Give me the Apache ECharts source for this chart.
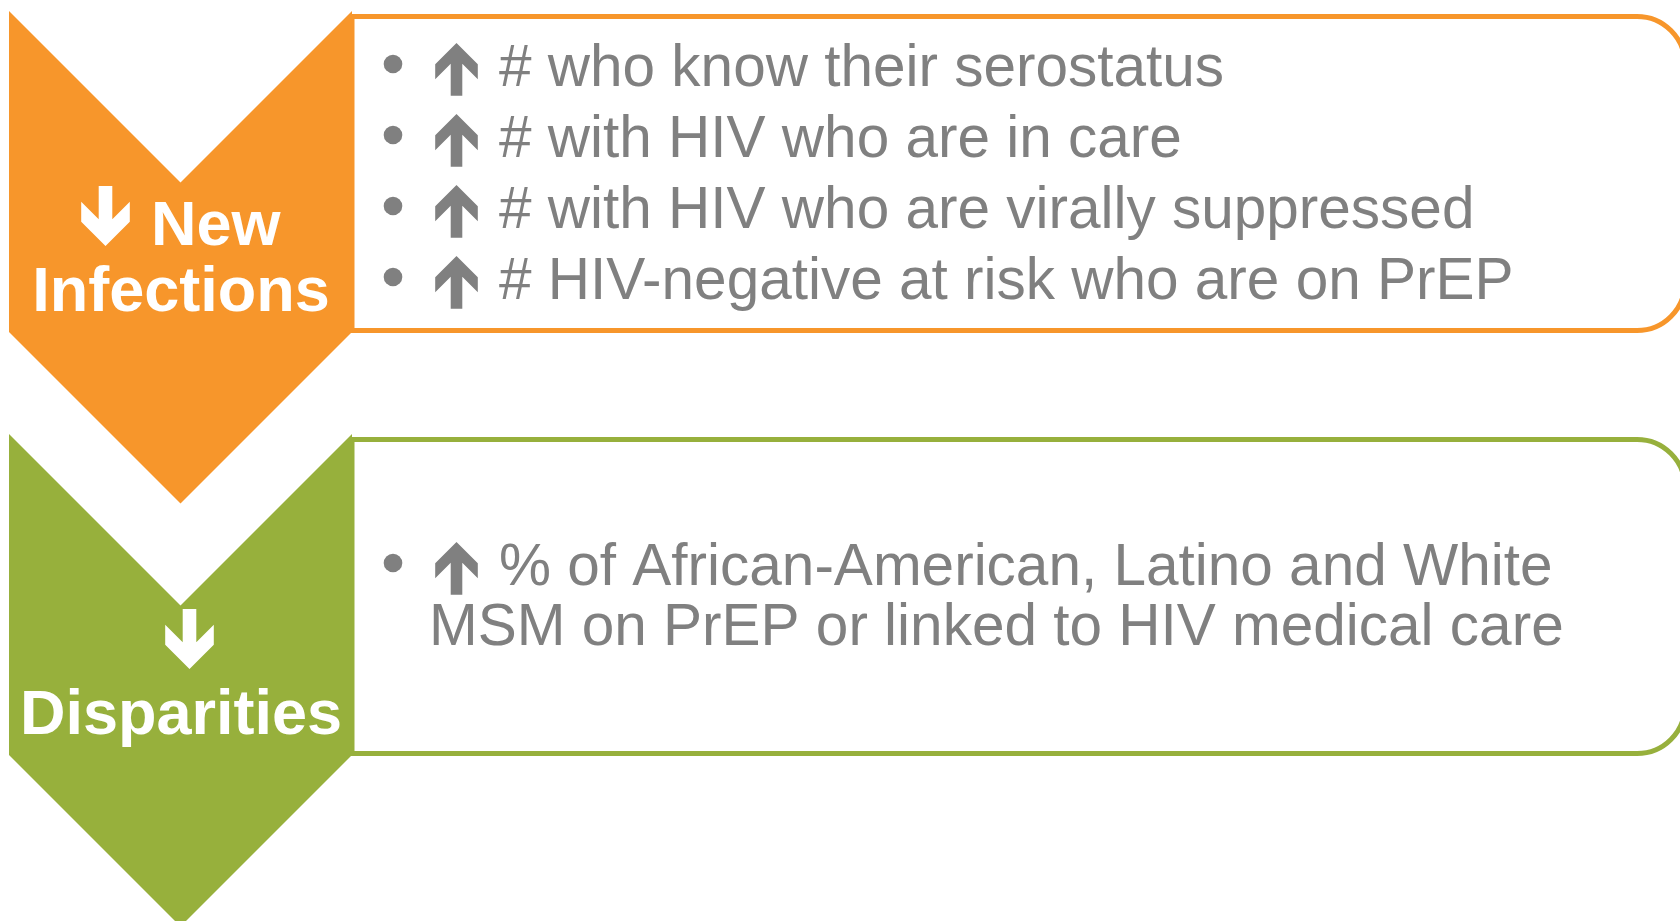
<!DOCTYPE html>
<html>
<head>
<meta charset="utf-8">
<title>HIV goals</title>
<script src="https://cdn.jsdelivr.net/npm/echarts@6/dist/echarts.min.js"></script>
<style>
  html, body { margin: 0; padding: 0; background: #fff; }
  #goals { width: 1680px; height: 921px; }
</style>
</head>
<body>
<div id="goals"></div>
<script>
// text content of the two stages
var stageTitleLines = [['New', 'Infections'], ['', 'Disparities']];
var newInfectionGoals = [
  '# who know their serostatus',
  '# with HIV who are in care',
  '# with HIV who are virally suppressed',
  '# HIV-negative at risk who are on PrEP'
];
var disparityGoalLines = [
  '% of African-American, Latino and White',
  'MSM on PrEP or linked to HIV medical care'
];

var stageColors = ['#F7962B', '#97B03C'];
var textGray = '#808080';
var fontFamily = '"Liberation Sans", Arial, sans-serif';

// layout
var stageTops = [11, 434];
var chevLeft = 9, chevRight = 352, chevH = 321;
var notch = (chevRight - chevLeft) / 2;
var boxRight = 1685, boxRadius = 48;
var bulletX = 393, arrowX = 456.5, textX = 499, wrapX = 429;
var bodySize = 58.5, titleSize = 63;

// arrow outline, tip at (cx, tipY); dir -1 = points up, 1 = points down
function arrowPoints(cx, tipY, dir, len, halfW, headT, shaftHalf) {
  var local = [
    [0, 0], [halfW, halfW], [halfW, halfW + headT], [shaftHalf, shaftHalf + headT],
    [shaftHalf, len], [-shaftHalf, len], [-shaftHalf, shaftHalf + headT],
    [-halfW, halfW + headT], [-halfW, halfW]
  ];
  var sgn = dir < 0 ? 1 : -1;
  return local.map(function (p) { return [cx + p[0], tipY + sgn * p[1]]; });
}

// middle of a text line from its baseline
function midFromBase(base, size) {
  return base - 0.27 * size;
}

function bulletRow(cy, text, withMarks) {
  var els = [];
  if (withMarks) {
    els.push({
      type: 'circle',
      shape: { cx: bulletX, cy: cy, r: 9.3 },
      style: { fill: textGray }
    });
    els.push({
      type: 'polygon',
      shape: { points: arrowPoints(arrowX, cy - 21, -1, 52.7, 21.3, 15, 5.8) },
      style: { fill: textGray }
    });
  }
  els.push({
    type: 'text',
    x: withMarks ? textX : wrapX,
    y: midFromBase(cy + 22, bodySize),
    style: {
      text: text,
      fill: textGray,
      font: bodySize + 'px ' + fontFamily,
      align: 'left',
      verticalAlign: 'middle'
    }
  });
  return els;
}

var elements = [];

stageTops.forEach(function (top, i) {
  var color = stageColors[i];
  var cx = (chevLeft + chevRight) / 2;

  // rounded box on the right
  elements.push({
    type: 'rect',
    shape: { x: chevRight, y: top + 5.5, width: boxRight - chevRight, height: 314, r: [0, boxRadius, boxRadius, 0] },
    style: { fill: '#fff', stroke: color, lineWidth: 5 },
    z: 1
  });

  // chevron
  elements.push({
    type: 'polygon',
    shape: {
      points: [
        [chevLeft, top], [cx, top + notch], [chevRight, top],
        [chevRight, top + chevH], [cx, top + chevH + notch], [chevLeft, top + chevH]
      ]
    },
    style: { fill: color },
    z: 2
  });

  // title
  var lines = stageTitleLines[i];
  var titleFont = 'bold ' + titleSize + 'px ' + fontFamily;
  var arrowCx = lines[0] ? 105.5 : cx + 9;
  elements.push({
    type: 'polygon',
    shape: { points: arrowPoints(arrowCx, top + 235, 1, 60, 24.3, 20, 6.8) },
    style: { fill: '#fff' },
    z: 3
  });
  if (lines[0]) {
    elements.push({
      type: 'text', x: 151, y: midFromBase(top + 234, titleSize), z: 3,
      style: { text: lines[0], fill: '#fff', font: titleFont, align: 'left', verticalAlign: 'middle' }
    });
  }
  elements.push({
    type: 'text', x: cx + 0.5, y: midFromBase(top + 300, titleSize), z: 3,
    style: { text: lines[1], fill: '#fff', font: titleFont, align: 'center', verticalAlign: 'middle' }
  });
});

// goals in the orange box
newInfectionGoals.forEach(function (g, k) {
  bulletRow(stageTops[0] + 53 + 71 * k, g, true).forEach(function (e) {
    e.z = 3; elements.push(e);
  });
});

// goal in the green box (wrapped on two lines)
disparityGoalLines.forEach(function (g, k) {
  bulletRow(stageTops[1] + 129 + 60 * k, g, k === 0).forEach(function (e) {
    e.z = 3; elements.push(e);
  });
});

var chart = echarts.init(document.getElementById('goals'));
var option = {
  backgroundColor: '#fff',
  animation: false,
  graphic: { elements: elements }
};
chart.setOption(option);
</script>
</body>
</html>
